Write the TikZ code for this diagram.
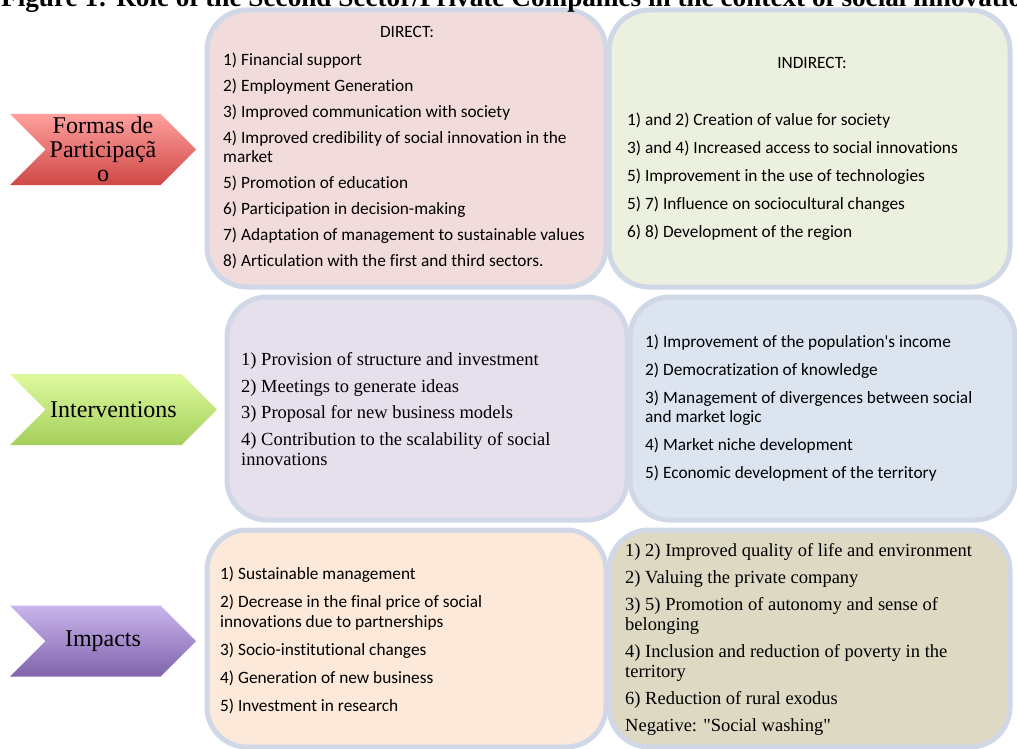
\documentclass[tikz,border=0pt]{standalone}
\usepackage{fontspec}
\setmainfont{Liberation Serif}
\newfontfamily\calibri[Ligatures={TeX,CommonOff}]{Carlito}
\usetikzlibrary{shapes.symbols}

\definecolor{rim}{RGB}{208,216,232}
\definecolor{directfill}{RGB}{242,220,219}
\definecolor{indirectfill}{RGB}{235,241,222}
\definecolor{intervfill}{RGB}{230,224,236}
\definecolor{resultfill}{RGB}{220,228,240}
\definecolor{impactfill}{RGB}{253,233,217}
\definecolor{effectfill}{RGB}{221,217,195}
\definecolor{formtop}{RGB}{255,160,157}
\definecolor{formbot}{RGB}{206,72,70}
\definecolor{intertop}{RGB}{222,250,158}
\definecolor{interbot}{RGB}{165,207,92}
\definecolor{imptop}{RGB}{202,181,236}
\definecolor{impbot}{RGB}{128,99,172}

\begin{document}
\begin{tikzpicture}[x=1pt,y=-1pt,
    panel/.style={draw=rim,line width=5pt,rounded corners=40pt,inner sep=0pt},
    tag/.style={signal,signal from=west,signal to=east,signal pointer angle=90,
      inner sep=0pt,minimum height=71pt},
    taglbl/.style={font=\fontsize{24}{24}\selectfont,align=center,inner sep=0pt},
    cal/.style={font=\calibri\fontsize{17.3}{19.5}\selectfont,align=left,anchor=west,inner sep=0pt},
    tms/.style={font=\fontsize{18.5}{20}\selectfont,align=left,anchor=west,inner sep=0pt}]
  \useasboundingbox (0,0) rectangle (1017,749);
  \clip (0,0) rectangle (1017,749);
  \fill[white] (0,0) rectangle (1017,749);
  % panels
  \node[panel,fill=directfill,minimum width=399pt,minimum height=277pt] (direct) at (406.5,148.5) {};
  \node[panel,fill=indirectfill,minimum width=401pt,minimum height=277pt] (indirect) at (809.5,148.5) {};
  \node[panel,fill=intervfill,minimum width=400pt,minimum height=223pt] (interv) at (427,408.5) {};
  \node[panel,fill=resultfill,minimum width=385pt,minimum height=223pt] (result) at (822.5,408.5) {};
  \node[panel,fill=impactfill,minimum width=399pt,minimum height=217pt] (impact) at (406.5,638.5) {};
  \node[panel,fill=effectfill,minimum width=401pt,minimum height=217pt] (effect) at (809.5,638.5) {};
  % chevrons
  \node[tag,top color=formtop,bottom color=formbot,minimum width=186pt] (formas) at (103,149.5) {};
  \node[tag,top color=intertop,bottom color=interbot,minimum width=207pt] (intervtag) at (113.5,409.5) {};
  \node[tag,top color=imptop,bottom color=impbot,minimum width=186pt] (impacttag) at (103,641) {};
  \node[taglbl] (formaslbl) at (formas.center) {Formas de\\Participaçã\\o};
  \node[taglbl] (intervlbl) at (intervtag.center) {Interventions};
  \node[taglbl] (impactlbl) at (impacttag.center) {Impacts};
  % texts
  \node[cal,anchor=center] (directhd) at (407,32) {DIRECT:};
  \node[cal] (directtxt) at (223,161) {1) Financial support\\[6.5pt]
    2) Employment Generation\\[6.5pt]
    3) Improved communication with society\\[6.5pt]
    4) Improved credibility of social innovation in the\\market\\[6.5pt]
    5) Promotion of education\\[6.5pt]
    6) Participation in decision-making\\[6.5pt]
    7) Adaptation of management to sustainable values\\[6.5pt]
    8) Articulation with the first and third sectors.};
  \node[cal,anchor=center] (indirecthd) at (812,63) {INDIRECT:};
  \node[cal] (indirecttxt) at (627,176.5) {1) and 2) Creation of value for society\\[8.5pt]
    3) and 4) Increased access to social innovations\\[8.5pt]
    5) Improvement in the use of technologies\\[8.5pt]
    5) 7) Influence on sociocultural changes\\[8.5pt]
    6) 8) Development of the region};
  \node[tms] (intervtxt) at (241,409) {1) Provision of structure and investment\\[6.5pt]
    2) Meetings to generate ideas\\[6.5pt]
    3) Proposal for new business models\\[6.5pt]
    4) Contribution to the scalability of social\\innovations};
  \node[cal] (resulttxt) at (645,408) {1) Improvement of the population\textquotesingle s income\\[8.5pt]
    2) Democratization of knowledge\\[8.5pt]
    3) Management of divergences between social\\and market logic\\[8.5pt]
    4) Market niche development\\[8.5pt]
    5) Economic development of the territory};
  \node[cal] (impacttxt) at (220,640.5) {1) Sustainable management\\[8.5pt]
    2) Decrease in the final price of social\\innovations due to partnerships\\[9pt]
    3) Socio-institutional changes\\[8.5pt]
    4) Generation of new business\\[8.5pt]
    5) Investment in research};
  \node[tms] (effecttxt) at (625,639.5) {1) 2) Improved quality of life and environment\\[7pt]
    2) Valuing the private company\\[7pt]
    3) 5) Promotion of autonomy and sense of\\belonging\\[7pt]
    4) Inclusion and reduction of poverty in the\\territory\\[7pt]
    6) Reduction of rural exodus\\[7pt]
    Negative: \textquotedbl Social washing\textquotedbl};
  % title
  \node[anchor=base west,inner sep=0pt,font=\bfseries\fontsize{27.2}{28}\selectfont] (title) at (1,7)
    {Figure 1: Role of the Second Sector/Private Companies in the context of social innovation};
\end{tikzpicture}
\end{document}
